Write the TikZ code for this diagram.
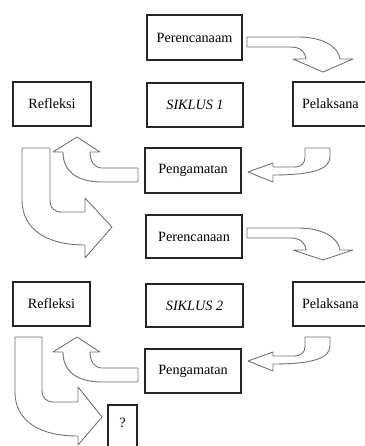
\documentclass[tikz,border=0pt]{standalone}
\usepackage{fontspec}
\setmainfont{Liberation Serif}
\begin{document}
\begin{tikzpicture}[x=1pt,y=-1pt,
  box/.style={draw=black!85, line width=1.3pt, fill=white, inner sep=0pt,
    font=\fontsize{14.2}{16}\selectfont},
  barrow/.style={draw=black!55, line width=0.9pt, fill=white, line join=round}]
\useasboundingbox (0,0) rectangle (364,446);
% boxes
\node[box, minimum width=95pt, minimum height=45pt] (p1) at (194.5,37.5) {Perencanaam};
\node[box, minimum width=96pt, minimum height=44pt] (s1) at (195,105) {\itshape SIKLUS 1};
\node[box, minimum width=78pt, minimum height=44pt] (r1) at (52,104) {Refleksi};
\node[box, minimum width=77pt, minimum height=44pt, text width=77pt, align=left] (l1) at (331.5,104) {\hspace{9pt}Pelaksana};
\node[box, minimum width=96pt, minimum height=45pt] (g1) at (193,170.5) {Pengamatan};
\node[box, minimum width=96pt, minimum height=43pt] (p2) at (194,236.5) {Perencanaan};
\node[box, minimum width=77pt, minimum height=44pt] (r2) at (51.5,304) {Refleksi};
\node[box, minimum width=97pt, minimum height=43pt] (s2) at (194.5,305.5) {\itshape SIKLUS 2};
\node[box, minimum width=77pt, minimum height=44pt, text width=77pt, align=left] (l2) at (331.5,304) {\hspace{9pt}Pelaksana};
\node[box, minimum width=96pt, minimum height=44pt] (g2) at (193,371) {Pengamatan};
\node[box, minimum width=29pt, minimum height=48pt, text depth=12pt] (q) at (122.5,429) {?};
% arrow: Perencanaam -> Pelaksana
\draw[barrow] (247,37) -- (298,37) .. controls (322,37) and (338,46) .. (340,59)
  -- (353,59) -- (323,72) -- (293,59) -- (306,59)
  .. controls (305,51) and (300,47) .. (290,47) -- (247,47) -- cycle;
% arrow: Pelaksana -> Pengamatan
\draw[barrow] (305,148) -- (330,148) -- (330,157) .. controls (330,170) and (310,175) .. (273,175)
  -- (273,182) -- (248,172) -- (273,163) -- (273,167) -- (294,167)
  .. controls (302,167) and (305,163) .. (305,157) -- cycle;
% arrow: Pengamatan -> Refleksi
\draw[barrow] (138,168) -- (102,168) .. controls (94,168) and (90,161) .. (90,152)
  -- (100,152) -- (77,137) -- (53,152) -- (63,152)
  .. controls (63,172) and (78,182) .. (102,182) -- (138,182) -- cycle;
% arrow: Refleksi -> Perencanaan
\draw[barrow] (22,148) -- (50,148) -- (50,200) .. controls (50,208) and (54,212) .. (62,212)
  -- (85,212) -- (85,198) -- (112,227) -- (85,258) -- (85,245)
  .. controls (45,245) and (22,228) .. (22,200) -- cycle;
% cycle 2
\begin{scope}[shift={(0,191)}]
\draw[barrow] (247,37) -- (298,37) .. controls (322,37) and (338,46) .. (340,59)
  -- (353,59) -- (323,69) -- (293,59) -- (306,59)
  .. controls (305,51) and (300,47) .. (290,47) -- (247,47) -- cycle;
\end{scope}
\begin{scope}[shift={(0,189)}]
\draw[barrow] (305,148) -- (330,148) -- (330,157) .. controls (330,170) and (310,175) .. (273,175)
  -- (273,182) -- (248,172) -- (273,163) -- (273,167) -- (294,167)
  .. controls (302,167) and (305,163) .. (305,157) -- cycle;
\end{scope}
\begin{scope}[shift={(0,200)}]
\draw[barrow] (138,168) -- (102,168) .. controls (94,168) and (90,161) .. (90,152)
  -- (100,152) -- (77,137) -- (53,152) -- (63,152)
  .. controls (63,172) and (78,182) .. (102,182) -- (138,182) -- cycle;
\end{scope}
% arrow: Refleksi 2 -> ?
\draw[barrow] (15,337) -- (42,337) -- (42,390) .. controls (42,398) and (46,402) .. (54,402)
  -- (78,402) -- (78,387) -- (102,417) -- (78,445) -- (78,436)
  .. controls (38,436) and (15,420) .. (15,392) -- cycle;
\end{tikzpicture}
\end{document}
